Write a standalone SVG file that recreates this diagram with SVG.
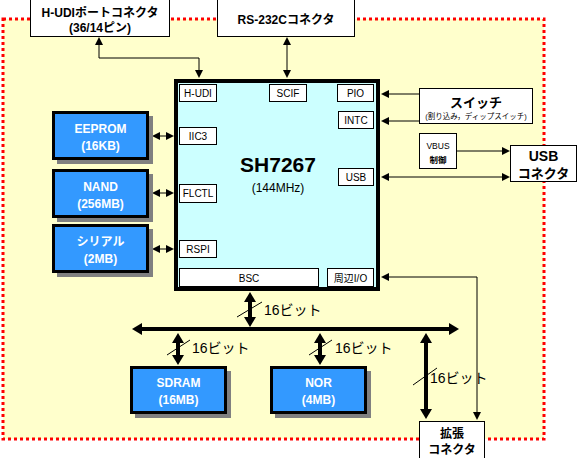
<svg xmlns="http://www.w3.org/2000/svg" width="577" height="458" viewBox="0 0 577 458">
<defs>
<style>
text{font-family:"Liberation Sans","Noto Sans CJK JP",sans-serif;text-anchor:middle;fill:#000}
.wb{fill:#fff;stroke:#000;stroke-width:1}
.in{font-size:10px}
.bl{fill:#3399FF;stroke:#000;stroke-width:3}
.sh{fill:#808080}
.bt{fill:#fff;font-weight:bold;font-size:12px}
.bd{font-weight:bold}
.thin{fill:none;stroke:#000;stroke-width:1;marker-start:url(#a);marker-end:url(#a)}
.thick{fill:none;stroke:#000;stroke-width:4;marker-start:url(#b);marker-end:url(#b)}
.sl{stroke:#000;stroke-width:1}
.lb{font-size:14px;text-anchor:start}
</style>
<marker id="a" viewBox="0 0 8 8" refX="1" refY="4" markerWidth="8" markerHeight="8" markerUnits="userSpaceOnUse" orient="auto-start-reverse"><path d="M0,0 L8,4 L0,8 z" fill="#000"/></marker>
<marker id="b" viewBox="0 0 10 12" refX="1" refY="6" markerWidth="10" markerHeight="12" markerUnits="userSpaceOnUse" orient="auto-start-reverse"><path d="M0,0 L10,6 L0,12 z" fill="#000"/></marker>
</defs>
<rect width="577" height="458" fill="#fff"/>
<rect id="board" x="3" y="19" width="541" height="420" fill="#FFFFCC" stroke="#FF0000" stroke-width="3" stroke-dasharray="3,3"/>

<g id="connectors">
<path class="thin" d="M99,44 V58 H199 V71"/>
<path class="thin" d="M287,44 V71"/>
<path class="thin" d="M159,136 H167"/>
<path class="thin" d="M159,193 H167"/>
<path class="thin" d="M159,249 H167"/>
<path class="thin" style="marker-start:none" d="M419,94 H388"/>
<path class="thin" style="marker-start:none" d="M419,121 H388"/>
<path class="thin" style="marker-start:none" d="M457,151 H503"/>
<path class="thin" d="M388,177 H503"/>
<path class="thin" d="M388,277 H477 V413"/>
<path class="thick" d="M141,329 H450"/>
<path class="thick" d="M250,301 V318"/>
<path class="thick" d="M178,342 V356"/>
<path class="thick" d="M320,342 V356"/>
<path class="thick" d="M426,342 V410"/>
<line class="sl" x1="237" y1="317" x2="262" y2="302"/>
<line class="sl" x1="167" y1="355" x2="190" y2="340"/>
<line class="sl" x1="309" y1="355" x2="332" y2="340"/>
<line class="sl" x1="413" y1="385" x2="437" y2="368"/>
<text class="lb" x="264" y="315">16ビット</text>
<text class="lb" x="192" y="353">16ビット</text>
<text class="lb" x="335" y="353">16ビット</text>
<text class="lb" x="430" y="383">16ビット</text>
</g>

<g id="hudi-conn">
<rect class="wb" x="30.5" y="-0.5" width="139" height="37"/>
<text class="bd" x="100" y="17" font-size="12">H-UDIポートコネクタ</text>
<text class="bd" x="100" y="32" font-size="12">(36/14ピン)</text>
</g>
<g id="rs232c-conn">
<rect class="wb" x="217.5" y="-0.5" width="137" height="37"/>
<text class="bd" x="286" y="24" font-size="12">RS-232Cコネクタ</text>
</g>

<g id="sh7267">
<rect x="176" y="81" width="202" height="208" fill="#CCFFFF" stroke="#000" stroke-width="4"/>
<text class="bd" x="278" y="172" font-size="21">SH7267</text>
<text x="278" y="192" font-size="12">(144MHz)</text>
<g id="p-hudi"><rect class="wb" x="179.5" y="84.5" width="37" height="17"/><text class="in" x="198" y="97">H-UDI</text></g>
<g id="p-scif"><rect class="wb" x="269.5" y="84.5" width="37" height="17"/><text class="in" x="288" y="97">SCIF</text></g>
<g id="p-pio"><rect class="wb" x="337.5" y="84.5" width="36" height="17"/><text class="in" x="355.5" y="97">PIO</text></g>
<g id="p-intc"><rect class="wb" x="338.5" y="111.5" width="35" height="17"/><text class="in" x="356" y="124">INTC</text></g>
<g id="p-iic3"><rect class="wb" x="179.5" y="127.5" width="37" height="17"/><text class="in" x="198" y="140">IIC3</text></g>
<g id="p-usb"><rect class="wb" x="338.5" y="168.5" width="35" height="17"/><text class="in" x="356" y="181">USB</text></g>
<g id="p-flctl"><rect class="wb" x="179.5" y="184.5" width="37" height="18"/><text class="in" x="198" y="197">FLCTL</text></g>
<g id="p-rspi"><rect class="wb" x="179.5" y="240.5" width="37" height="17"/><text class="in" x="198" y="253">RSPI</text></g>
<g id="p-bsc"><rect class="wb" x="179.5" y="268.5" width="139" height="18"/><text class="in" x="249" y="282">BSC</text></g>
<g id="p-io"><rect class="wb" x="327.5" y="268.5" width="46" height="18"/><text class="in" x="350.5" y="282">周辺I/O</text></g>
</g>

<g id="eeprom">
<rect class="sh" x="57" y="116" width="96" height="48"/>
<rect class="bl" x="53.5" y="112.5" width="94" height="46"/>
<text class="bt" x="100.5" y="133">EEPROM</text>
<text class="bt" x="100.5" y="150">(16KB)</text>
</g>
<g id="nand">
<rect class="sh" x="57" y="174" width="96" height="48"/>
<rect class="bl" x="53.5" y="170.5" width="94" height="46"/>
<text class="bt" x="100.5" y="191">NAND</text>
<text class="bt" x="100.5" y="208">(256MB)</text>
</g>
<g id="serial">
<rect class="sh" x="57" y="229" width="96" height="48"/>
<rect class="bl" x="53.5" y="225.5" width="94" height="46"/>
<text class="bt" x="100.5" y="246">シリアル</text>
<text class="bt" x="100.5" y="263">(2MB)</text>
</g>
<g id="sdram">
<rect class="sh" x="135" y="371" width="96" height="47"/>
<rect class="bl" x="131.5" y="367.5" width="94" height="45"/>
<text class="bt" x="178.5" y="387">SDRAM</text>
<text class="bt" x="178.5" y="404">(16MB)</text>
</g>
<g id="nor">
<rect class="sh" x="275" y="371" width="96" height="47"/>
<rect class="bl" x="271.5" y="367.5" width="94" height="45"/>
<text class="bt" x="318.5" y="387">NOR</text>
<text class="bt" x="318.5" y="404">(4MB)</text>
</g>

<g id="switch">
<rect class="wb" x="419.5" y="88.5" width="113" height="35"/>
<text class="bd" x="476" y="107" font-size="13">スイッチ</text>
<text x="476" y="119" font-size="7.5">(割り込み，ディップスイッチ)</text>
</g>
<g id="vbus">
<rect class="wb" x="419.5" y="133.5" width="37" height="35"/>
<text x="438" y="149" font-size="8.5">VBUS</text>
<text class="bd" x="438" y="163" font-size="8.5">制御</text>
</g>
<g id="usb-conn">
<rect class="wb" x="510.5" y="145.5" width="66" height="36"/>
<text class="bd" x="543.5" y="161" font-size="14">USB</text>
<text class="bd" x="543.5" y="178" font-size="13">コネクタ</text>
</g>
<g id="ext-conn">
<rect class="wb" x="419.5" y="421.5" width="65" height="37"/>
<text class="bd" x="452" y="438" font-size="12">拡張</text>
<text class="bd" x="452" y="454" font-size="12">コネクタ</text>
</g>
</svg>
